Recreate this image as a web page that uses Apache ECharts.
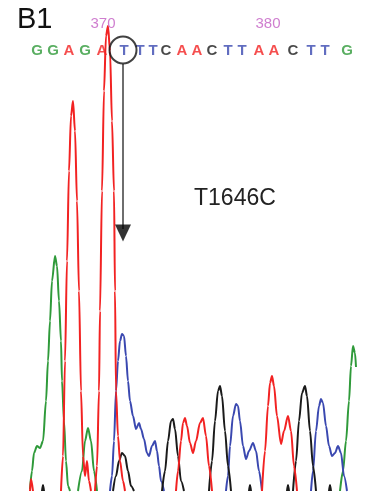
<!DOCTYPE html>
<html>
<head>
<meta charset="utf-8">
<script src="https://cdn.jsdelivr.net/npm/echarts@6/dist/echarts.min.js"></script>
<style>
html, body { margin: 0; padding: 0; background: #fff; }
#main { width: 370px; height: 497px; }
</style>
</head>
<body>
<div id="main"></div>
<script>
// 四条荧光信号曲线 [扫描位置, 信号强度]，null 表示基线处断开
var traceG = [[30,2],[32,20],[34,38],[37,45],[40,43],[43,50],[46,90],[48,130],[50,170],[52,210],[55,235],[57,225],[59,190],[61,150],[62,110],[64,70],[66,30],[68,5],[70,0], null,
  [78,0],[82,20],[85,50],[88,63],[91,50],[94,20],[97,0], null,
  [340,0],[343,20],[346,50],[349,90],[351,125],[353,145],[355,138],[356,124]];
var traceA = [[30,0],[31,12],[33,0], null,
  [61,0],[63,35],[65,130],[67,230],[69,320],[71,375],[73,390],[75,360],[77,290],[79,200],[81,100],[83,35],[85,15],[87,30],[89,10],[91,0], null,
  [95,0],[97,25],[99,100],[100,180],[102,300],[104,400],[106,455],[108,465],[110,440],[112,370],[114,300],[115,200],[116,100],[118,55],[120,30],[123,10],[125,0], null,
  [176,0],[178,20],[181,50],[183,68],[185,73],[187,65],[190,48],[193,38],[196,50],[200,68],[203,73],[206,55],[209,25],[212,0], null,
  [262,0],[265,40],[268,85],[270,108],[272,115],[274,105],[277,75],[281,47],[284,60],[288,75],[291,60],[294,25],[297,0]];
var traceT = [[110,0],[112,15],[114,50],[116,100],[118,130],[120,150],[122,157],[124,155],[126,135],[128,110],[130,90],[133,75],[136,62],[139,68],[141,62],[144,52],[147,38],[149,35],[152,45],[155,50],[157,40],[159,25],[161,10],[164,0], null,
  [226,0],[228,15],[230,45],[233,75],[236,87],[238,85],[240,70],[243,45],[246,32],[249,40],[253,48],[256,40],[259,20],[262,0], null,
  [311,0],[313,20],[316,60],[319,85],[321,92],[323,88],[326,65],[329,45],[332,35],[335,38],[338,45],[341,38],[344,15],[347,0]];
var traceC = [[42,0],[43,6],[44,0], null,
  [113,0],[116,15],[119,30],[122,38],[125,35],[128,20],[131,5],[134,0], null,
  [162,0],[165,20],[168,50],[171,70],[173,72],[175,62],[178,35],[181,10],[184,0], null,
  [209,0],[212,30],[215,70],[218,100],[220,105],[222,95],[225,60],[228,25],[231,0], null,
  [249,0],[250,6],[251,0], null,
  [287,0],[288,6],[289,0], null,
  [293,0],[296,30],[299,70],[302,98],[305,105],[307,95],[310,60],[313,25],[316,0], null,
  [329,0],[330,6],[331,0]];

// 碱基序列及位置
var bases = ['G','G','A','G','A','T','T','T','C','A','A','C','T','T','A','A','C','T','T','G'];
var basePos = [37,53,69,85,102,124,140,153,166,182,197,212,228,242,259,274,293,311,325,347];
var tickLabels = ['370', '380'];
var tickPos = [103, 268];
var mutationPos = 123;

var colors = { G: '#2f9a3a', A: '#f22222', T: '#3a48b0', C: '#1a1a1a' };

var baseData = [];
for (var i = 0; i < bases.length; i++) {
    baseData.push({ value: [basePos[i], 440], name: bases[i], label: { color: colors[bases[i]] } });
}
var tickData = [];
for (var i = 0; i < tickLabels.length; i++) {
    tickData.push({ value: [tickPos[i], 467], name: tickLabels[i] });
}

function trace(name, data) {
    var d = [];
    for (var i = 0; i < data.length; i++) {
        d.push(data[i] === null ? '-' : data[i]);
    }
    return {
        name: name, type: 'line', data: d, symbol: 'none', connectNulls: false,
        smooth: 0.3, smoothMonotone: 'x',
        lineStyle: { color: colors[name], width: 2 },
        z: 2
    };
}

var myChart = echarts.init(document.getElementById('main'));
var option = {
    animation: false,
    grid: { left: 0, right: 0, top: 0, bottom: 6 },
    xAxis: { type: 'value', min: 0, max: 370, show: false },
    yAxis: { type: 'value', min: 0, max: 491, show: false },
    graphic: [
        { type: 'text', left: 17, top: 5, style: { text: 'B1', fontSize: 29, fontFamily: 'Liberation Sans', fill: '#111' } },
        { type: 'text', left: 194, top: 187, style: { text: 'T1646C', fontSize: 23, fontFamily: 'Liberation Sans', fill: '#222' } }
    ],
    series: [
        trace('G', traceG),
        trace('T', traceT),
        trace('C', traceC),
        trace('A', traceA),
        {
            type: 'scatter', data: baseData, symbolSize: 0, silent: true, z: 3,
            label: { show: true, position: 'inside', formatter: '{b}', fontSize: 15, fontWeight: 'bold', fontFamily: 'Liberation Sans' }
        },
        {
            type: 'scatter', data: tickData, symbolSize: 0, silent: true, z: 3,
            label: { show: true, position: 'inside', formatter: '{b}', fontSize: 15, color: '#c35ec3', fontFamily: 'Liberation Sans' }
        },
        {
            type: 'scatter', data: [[mutationPos, 441]], symbol: 'circle', symbolSize: 27, silent: true, z: 4,
            itemStyle: { color: 'rgba(0,0,0,0)', borderColor: '#111', borderWidth: 2 }
        },
        {
            type: 'line', data: [[mutationPos, 427], [mutationPos, 262]], symbol: 'none', silent: true, z: 4,
            lineStyle: { color: '#6e6e6e', width: 2 }
        },
        {
            type: 'scatter', data: [[mutationPos, 258]], symbol: 'triangle', symbolRotate: 180, symbolSize: [16, 17], silent: true, z: 5,
            itemStyle: { color: '#000' }
        }
    ]
};
myChart.setOption(option);
</script>
</body>
</html>
